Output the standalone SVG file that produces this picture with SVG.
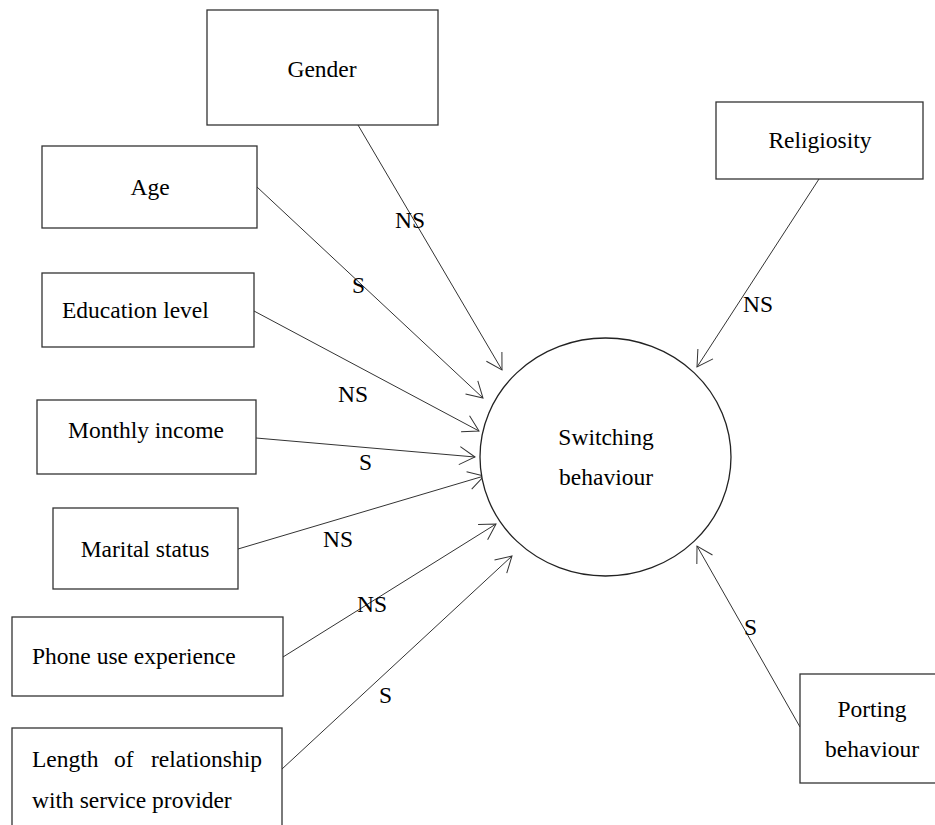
<svg xmlns="http://www.w3.org/2000/svg" width="935" height="825" viewBox="0 0 935 825">
<defs>
<style>
.box{fill:#fff;stroke:#333;stroke-width:1.3}
.t{font-family:"Liberation Serif","Times New Roman",serif;font-size:23.5px;fill:#000}
.c{text-anchor:middle}
.lbl{font-family:"Liberation Serif","Times New Roman",serif;font-size:23.5px;fill:#000}
.edge{stroke:#333;stroke-width:1;fill:none;marker-end:url(#arr)}
</style>
<marker id="arr" markerUnits="userSpaceOnUse" markerWidth="40" markerHeight="40" refX="0" refY="0" orient="auto" overflow="visible">
<path d="M-15.5,-9 L0,0 L-15.5,9" fill="none" stroke="#333" stroke-width="1"/>
</marker>
</defs>
<rect width="935" height="825" fill="#fff"/>
<g id="connectors">
<line class="edge" x1="358" y1="125" x2="502" y2="370"/>
<line class="edge" x1="257" y1="187" x2="483" y2="398"/>
<line class="edge" x1="254" y1="311" x2="479" y2="431"/>
<line class="edge" x1="256" y1="438" x2="475" y2="457"/>
<line class="edge" x1="238" y1="549" x2="484" y2="476"/>
<line class="edge" x1="283" y1="657" x2="496" y2="524"/>
<line class="edge" x1="282" y1="769" x2="512" y2="556"/>
<line class="edge" x1="819" y1="179" x2="697" y2="367"/>
<line class="edge" x1="800" y1="727" x2="697" y2="546"/>
<text class="lbl" x="395" y="228">NS</text>
<text class="lbl" x="352" y="293">S</text>
<text class="lbl" x="338" y="402">NS</text>
<text class="lbl" x="359" y="470">S</text>
<text class="lbl" x="323" y="547">NS</text>
<text class="lbl" x="357" y="612">NS</text>
<text class="lbl" x="379" y="703">S</text>
<text class="lbl" x="743" y="312">NS</text>
<text class="lbl" x="744" y="635">S</text>
</g>
<g id="gender">
<rect class="box" x="207" y="10" width="231" height="115"/>
<text class="t c" x="322" y="77">Gender</text>
</g>
<g id="age">
<rect class="box" x="42" y="146" width="215" height="82"/>
<text class="t c" x="150" y="195">Age</text>
</g>
<g id="education">
<rect class="box" x="42" y="273" width="212" height="74"/>
<text class="t" x="62" y="318">Education level</text>
</g>
<g id="income">
<rect class="box" x="37" y="400" width="219" height="74"/>
<text class="t c" x="146" y="438">Monthly income</text>
</g>
<g id="marital">
<rect class="box" x="53" y="508" width="185" height="81"/>
<text class="t c" x="145" y="557">Marital status</text>
</g>
<g id="phone">
<rect class="box" x="12" y="617" width="271" height="79"/>
<text class="t" x="32" y="664">Phone use experience</text>
</g>
<g id="length">
<rect class="box" x="12" y="728" width="270" height="110"/>
<text class="t" y="767"><tspan x="32">Length</tspan><tspan x="114">of</tspan><tspan x="262" text-anchor="end">relationship</tspan></text>
<text class="t" x="32" y="808">with service provider</text>
</g>
<g id="religiosity">
<rect class="box" x="716" y="102" width="207" height="77"/>
<text class="t c" x="820" y="148">Religiosity</text>
</g>
<g id="porting">
<rect class="box" x="800" y="674" width="140" height="109"/>
<text class="t c" x="872" y="717">Porting</text>
<text class="t c" x="872" y="757">behaviour</text>
</g>
<g id="switching">
<ellipse cx="605.5" cy="457" rx="125.5" ry="119" fill="#fff" stroke="#222" stroke-width="1.3"/>
<text class="t c" x="606" y="445">Switching</text>
<text class="t c" x="606" y="485">behaviour</text>
</g>
</svg>
